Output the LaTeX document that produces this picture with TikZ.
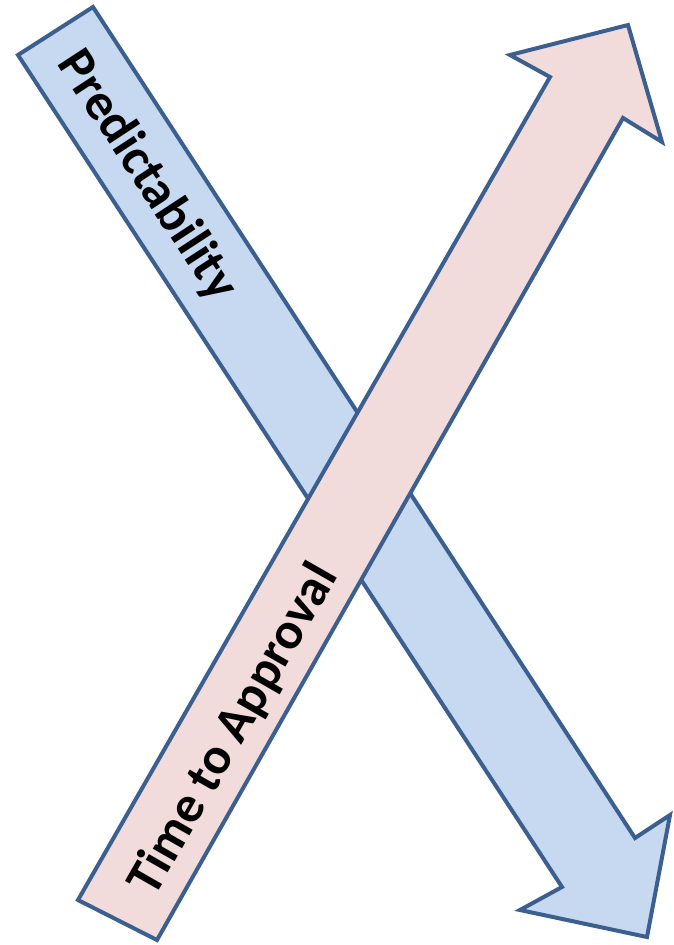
\documentclass[tikz,border=0pt]{standalone}
\usepackage{fontspec}
\setmainfont{Carlito}
\definecolor{edgeblue}{HTML}{3B5F8E}
\definecolor{fillblue}{HTML}{C6D9F1}
\definecolor{fillpink}{HTML}{F2DCDB}
\tikzset{
  arrowshape/.style={draw=edgeblue, line width=4pt, line join=miter},
  arrowlabel/.style={font=\fontsize{52}{60}\selectfont\bfseries, text=black, inner sep=0pt, anchor=center}
}
\begin{document}
\begin{tikzpicture}[x=1pt,y=-1pt]
\useasboundingbox (0,0) rectangle (673,945);
% blue arrow (Predictability)
\draw[arrowshape, fill=fillblue] (18,55) -- (93,7) -- (635,838) -- (670,815) -- (647,937) -- (520,910) -- (562,887) -- cycle;
\node[arrowlabel, rotate=-56.8] (pred) at (147,176) {Predictability};
% pink arrow (Time to Approval)
\draw[arrowshape, fill=fillpink] (78,900) -- (157,940) -- (623,118) -- (662,142) -- (628,25) -- (510,55) -- (550,77) -- cycle;
\node[arrowlabel, rotate=60.2] (tta) at (234,730) {Time to Approval};
\end{tikzpicture}
\end{document}
